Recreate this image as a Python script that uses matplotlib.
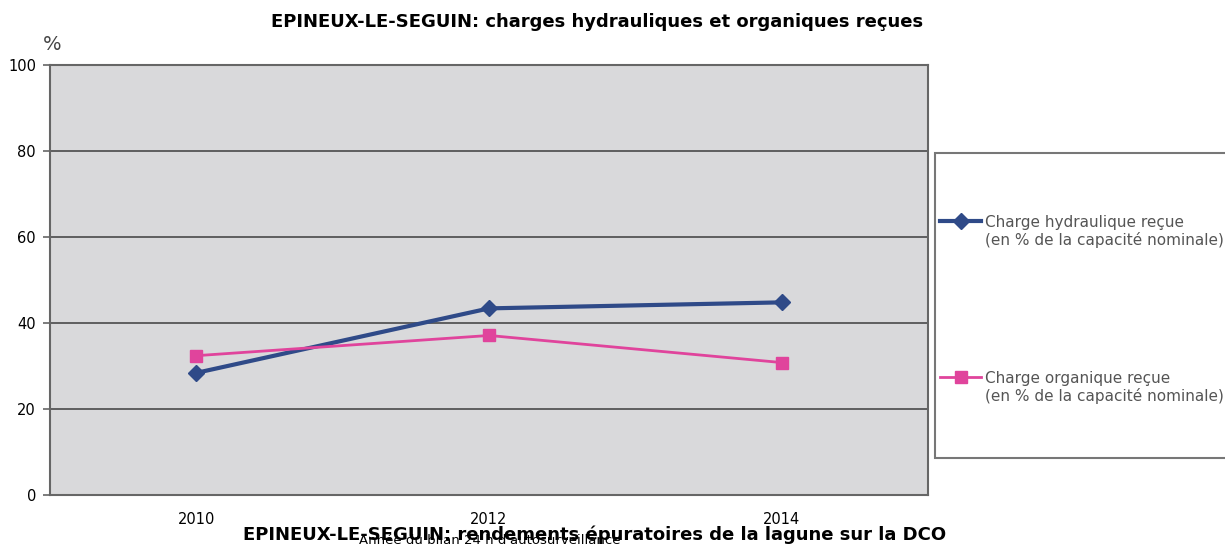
import matplotlib.pyplot as plt
from matplotlib.patches import Rectangle

plt.rcParams['font.family'] = ['DejaVu Sans']

# data
years = ['2010', '2012', '2014']
charge_hydraulique = [28.4, 43.4, 44.8]
charge_organique = [32.4, 37.1, 30.8]
yticks = [0, 20, 40, 60, 80, 100]
series_names = ['Charge hydraulique reçue', 'Charge organique reçue']
unit_note = '(en % de la capacité nominale)'

W, H = 1225, 544
fig = plt.figure(figsize=(W / 100, H / 100), dpi=100)
ax = fig.add_axes([50 / W, 1 - 495 / H, (928 - 50) / W, (495 - 65) / H])
ax.set_facecolor('#d9d9db')

x = range(len(years))
l1, = ax.plot(x, charge_hydraulique, color='#2f4a88', lw=3, marker='D', ms=8,
              mfc='#2f4a88', mec='#2f4a88', zorder=3)
l2, = ax.plot(x, charge_organique, color='#e0449c', lw=2, marker='s', ms=8,
              mfc='#e0449c', mec='#e0449c', zorder=3)

ax.set_xlim(-0.5, len(years) - 0.5)
ax.set_ylim(0, 100)
ax.set_yticks(yticks)
ax.set_xticks(list(x))
ax.set_xticklabels(years)
ax.yaxis.grid(True, color='#555555', lw=1.3)
ax.set_axisbelow(True)
for s in ax.spines.values():
    s.set_color('#666666')
    s.set_linewidth(1.5)
ax.tick_params(axis='y', length=5, width=1.2, color='#666666', labelsize=10.5, pad=5)
ax.tick_params(axis='x', length=0, labelsize=10.5, pad=12)

ax.text(0.003, 1.025, '%', transform=ax.transAxes, fontsize=14, color='#444444',
        ha='center', va='bottom')

fig.text(597 / W, 1 - 22 / H, 'EPINEUX-LE-SEGUIN: charges hydrauliques et organiques reçues',
         ha='center', va='center', fontsize=13, fontweight='bold')

# legend box, cut off by the right edge like the scan
fig.patches.append(Rectangle((935 / W, 1 - 458 / H), 320 / W, 305 / H,
                             transform=fig.transFigure, facecolor='white',
                             edgecolor='#777777', lw=1.5, zorder=0))
for line, name, ypix in [(l1, series_names[0], 222), (l2, series_names[1], 378)]:
    leg = fig.legend(handles=[line], labels=[name], loc='center left',
                     bbox_to_anchor=(940 / W, 1 - ypix / H), frameon=False,
                     fontsize=11, handlelength=2.7, handletextpad=0.25,
                     borderaxespad=0, borderpad=0)
    leg.get_texts()[0].set_color('#555555')
    fig.text(985 / W, 1 - (ypix + 18) / H, unit_note, fontsize=11,
             color='#555555', ha='left', va='center')

fig.text(490 / W, 1 - 541 / H, "Année du bilan 24 h d'autosurveillance",
         ha='center', va='center', fontsize=9.5)
fig.text(595 / W, 1 - 535 / H,
         'EPINEUX-LE-SEGUIN: rendements épuratoires de la lagune sur la DCO',
         ha='center', va='center', fontsize=13, fontweight='bold')

fig.savefig('out.png', dpi=100)
